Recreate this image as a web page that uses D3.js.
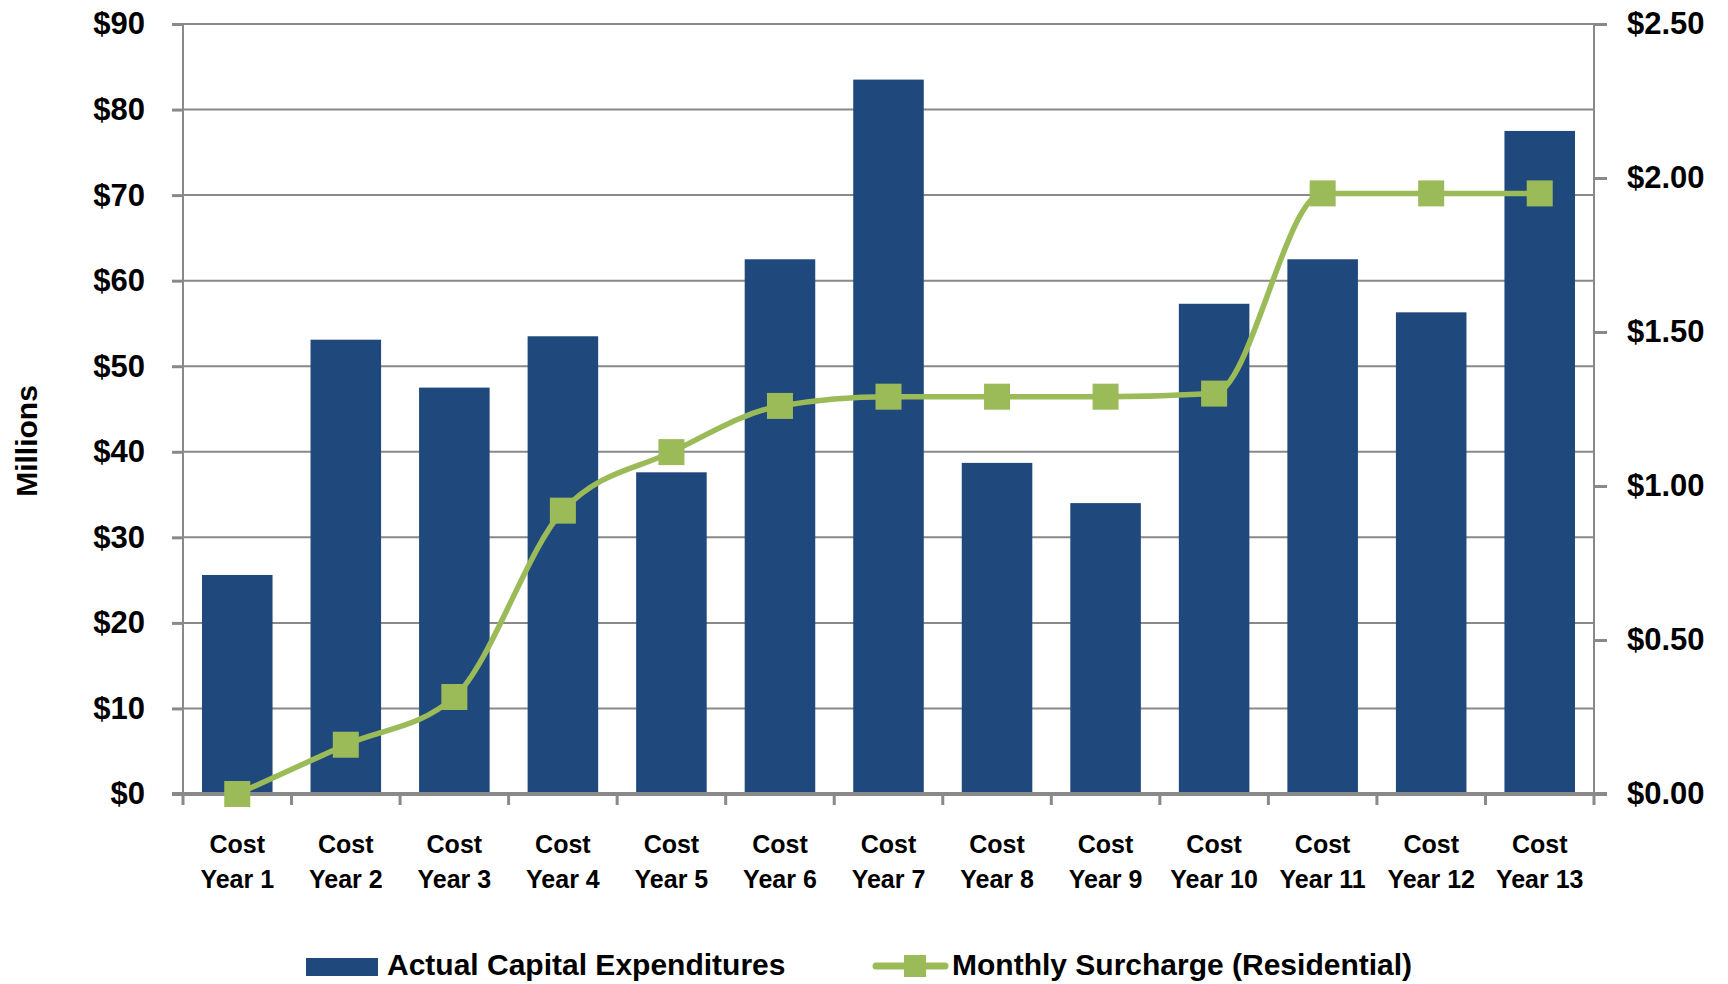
<!DOCTYPE html>
<html>
<head>
<meta charset="utf-8">
<script src="https://cdn.jsdelivr.net/npm/d3@7"></script>
<style>
html,body{margin:0;padding:0;background:#fff;}
svg text{font-family:"Liberation Sans",Arial,sans-serif;font-weight:bold;fill:#000;}
</style>
</head>
<body>
<svg id="chart" width="1728" height="984"></svg>
<script>
const categories = ["Year 1","Year 2","Year 3","Year 4","Year 5","Year 6","Year 7","Year 8","Year 9","Year 10","Year 11","Year 12","Year 13"];
const capex = [25.6, 53.1, 47.5, 53.5, 37.6, 62.5, 83.5, 38.7, 34.0, 57.3, 62.5, 56.3, 77.5];
const surcharge = [0.00, 0.16, 0.315, 0.92, 1.11, 1.26, 1.29, 1.29, 1.29, 1.30, 1.95, 1.95, 1.95];
const leftTicks = [0,10,20,30,40,50,60,70,80,90];
const rightTicks = [0,0.5,1.0,1.5,2.0,2.5];
const seriesNames = ["Actual Capital Expenditures","Monthly Surcharge (Residential)"];

const svg = d3.select("#chart");
const L = 183, R = 1594, T = 24, B = 794;
const barColor = "#1F497D", lineColor = "#9BBB59", axisColor = "#898989";

const x = d3.scaleBand().domain(categories).range([L, R]).paddingInner(0.35).paddingOuter(0.175);
const yL = d3.scaleLinear().domain([0, 90]).range([B, T]);
const yR = d3.scaleLinear().domain([0, 2.5]).range([B, T]);

// gridlines
svg.append("g").selectAll("line").data(leftTicks.filter(d => d > 0)).join("line")
  .attr("x1", L).attr("x2", R).attr("y1", d => yL(d)).attr("y2", d => yL(d))
  .attr("stroke", axisColor).attr("stroke-width", 2);

// bars
svg.append("g").selectAll("rect").data(capex).join("rect")
  .attr("x", (d, i) => x(categories[i])).attr("width", x.bandwidth())
  .attr("y", d => yL(d)).attr("height", d => B - yL(d))
  .attr("fill", barColor);

// left axis
const gL = svg.append("g").attr("transform", `translate(${L},0)`)
  .call(d3.axisLeft(yL).tickValues(leftTicks).tickFormat(d => "$" + d).tickSize(11).tickPadding(27));
gL.select(".domain").attr("stroke", axisColor).attr("stroke-width", 2).attr("d", `M0,${T}V${B}`);
gL.selectAll(".tick line").attr("stroke", axisColor).attr("stroke-width", 3);
gL.selectAll(".tick text").attr("font-size", 31).attr("font-family", null);

// right axis
const gR = svg.append("g").attr("transform", `translate(${R},0)`)
  .call(d3.axisRight(yR).tickValues(rightTicks).tickFormat(d => "$" + d.toFixed(2)).tickSize(13).tickPadding(20));
gR.select(".domain").attr("stroke", axisColor).attr("stroke-width", 2).attr("d", `M0,${T}V${B}`);
gR.selectAll(".tick line").attr("stroke", axisColor).attr("stroke-width", 3);
gR.selectAll(".tick text").attr("font-size", 31).attr("font-family", null);

// x axis
const edge = (x.step() - x.bandwidth()) / 2;
const bounds = categories.map(c => x(c) - edge).concat([x(categories[categories.length - 1]) + x.bandwidth() + edge]);
svg.append("line").attr("x1", L - 11).attr("x2", R + 13).attr("y1", B).attr("y2", B)
  .attr("stroke", axisColor).attr("stroke-width", 4);
svg.append("g").selectAll("line").data(bounds).join("line")
  .attr("x1", d => d).attr("x2", d => d).attr("y1", B).attr("y2", B + 11)
  .attr("stroke", axisColor).attr("stroke-width", 3);
const xl = svg.append("g").selectAll("text").data(categories).join("text")
  .attr("x", d => x(d) + x.bandwidth() / 2).attr("text-anchor", "middle").attr("font-size", 25);
xl.append("tspan").attr("x", d => x(d) + x.bandwidth() / 2).attr("y", 853).text("Cost");
xl.append("tspan").attr("x", d => x(d) + x.bandwidth() / 2).attr("y", 888).text(d => d);

// line
const line = d3.line().x((d, i) => x(categories[i]) + x.bandwidth() / 2).y(d => yR(d)).curve(d3.curveMonotoneX);
svg.append("path").datum(surcharge).attr("d", line).attr("fill", "none")
  .attr("stroke", lineColor).attr("stroke-width", 5.5);
const ms = 26;
svg.append("g").selectAll("rect").data(surcharge).join("rect")
  .attr("x", (d, i) => x(categories[i]) + x.bandwidth() / 2 - ms / 2).attr("y", d => yR(d) - ms / 2)
  .attr("width", ms).attr("height", ms).attr("fill", lineColor);

// y title
svg.append("text").attr("transform", "translate(37,441) rotate(-90)").attr("text-anchor", "middle")
  .attr("font-size", 30).text("Millions");

// legend
svg.append("rect").attr("x", 306).attr("y", 958).attr("width", 72).attr("height", 18).attr("fill", barColor);
svg.append("text").attr("x", 387).attr("y", 975).attr("font-size", 30).text(seriesNames[0]);
svg.append("line").attr("x1", 876).attr("x2", 945).attr("y1", 966).attr("y2", 966)
  .attr("stroke", lineColor).attr("stroke-width", 7).attr("stroke-linecap", "round");
svg.append("rect").attr("x", 904).attr("y", 955).attr("width", 22).attr("height", 22).attr("fill", lineColor);
svg.append("text").attr("x", 952).attr("y", 975).attr("font-size", 30).text(seriesNames[1]);
</script>
</body>
</html>
